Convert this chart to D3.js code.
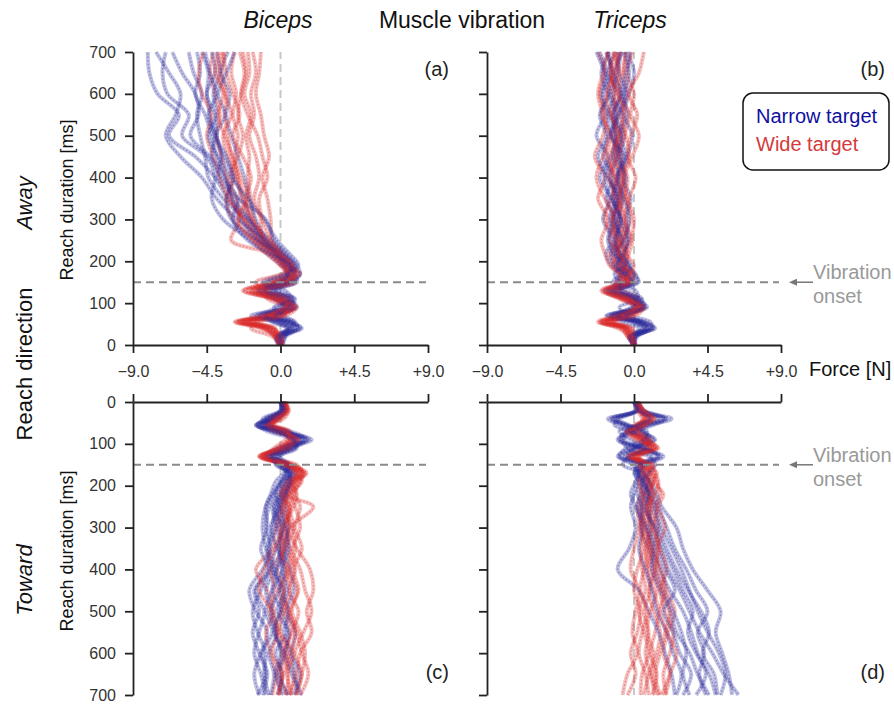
<!DOCTYPE html>
<html>
<head>
<meta charset="utf-8">
<script src="https://cdn.jsdelivr.net/npm/d3@7"></script>
<style>
  body { margin: 0; background: #fff; }
  svg { font-family: "Liberation Sans", Arial, sans-serif; }
  .axis path, .axis line { stroke: #222; stroke-width: 1.8; }
  .axis text { fill: #333; font-size: 16px; font-family: "Liberation Sans", Arial, sans-serif; }
</style>
</head>
<body>
<div id="chart"></div>
<script>
// sample times [ms]
var T = [0,20,40,55,70,90,110,130,150,170,190,220,250,300,350,400,450,500,550,600,650,700]

var xTicks = [-9, -4.5, 0, 4.5, 9]
var xTickLabels = ["\u22129.0", "\u22124.5", "0.0", "+4.5", "+9.0"]
var yTicks = [0,100,200,300,400,500,600,700]
var onsetMs = 150

// (a) biceps, away
var bicepsAwayNarrow = [
  [0,-0.2,0.8,0.3,-0.8,0.6,0.2,-1.0,0.3,0.7,0.5,-0.3,-1.0,-1.8,-2.3,-2.8,-3.5,-4.0,-4.3,-4.5,-4.4,-4.8],
  [0.1,0.3,1.1,0.5,-1.2,0.8,0.4,-1.3,-0.2,0.9,0.8,0.2,-0.6,-2.0,-3.2,-4.0,-5.2,-6.8,-6.2,-7.5,-8.0,-8.1],
  [-0.1,-0.3,0.5,-0.2,-1.5,0.3,0.0,-0.8,0.9,0.4,0.2,-0.6,-1.5,-2.4,-3.0,-3.3,-4.3,-5.5,-5.0,-5.2,-6.0,-6.6],
  [0,0.2,0.9,0.6,-0.6,0.9,0.5,-0.5,1.0,0.9,0.7,0.0,-0.8,-1.5,-1.9,-2.2,-2.6,-3.0,-3.3,-3.1,-3.6,-3.2],
  [0,-0.1,0.6,0.0,-1.0,0.5,-0.2,-1.4,-0.4,0.6,0.3,-0.4,-1.3,-2.2,-3.5,-4.4,-4.6,-4.9,-5.1,-4.8,-5.3,-5.6],
  [0.1,0.1,1.2,0.7,-0.4,1.0,0.6,-0.3,0.7,1.2,1.0,0.3,-0.4,-0.9,-2.6,-3.8,-3.6,-3.9,-4.0,-4.5,-4.0,-4.2],
  [0,-0.2,0.4,-0.4,-1.8,0.2,-0.4,-1.2,0.2,0.5,0.1,-0.9,-1.8,-3.5,-4.2,-4.0,-4.5,-6.0,-5.6,-6.9,-7.2,-7.0],
  [0,0.0,0.7,0.2,-0.9,0.7,0.1,-0.9,0.5,0.8,0.6,-0.2,-1.1,-1.9,-2.9,-3.4,-3.9,-4.2,-4.6,-5.2,-4.9,-5.1],
  [0,0.1,1.0,0.9,0.2,-0.4,0.7,0.3,-0.8,0.4,1.1,0.5,-0.2,-1.0,-2.0,-3.0,-3.8,-4.4,-3.9,-4.1,-3.7,-3.9],
  [0.1,0.3,0.4,-0.5,-0.9,0.1,0.8,-0.2,-1.1,0.2,0.9,0.0,-0.9,-2.6,-3.9,-4.8,-6.1,-7.0,-6.4,-6.1,-6.8,-7.6],
  [-0.1,-0.2,0.6,0.8,-0.3,0.4,0.9,-0.6,0.6,1.2,0.4,-0.2,-1.4,-3.0,-3.3,-2.9,-3.3,-3.9,-3.4,-3.8,-3.3,-2.8],
  [0,0.0,1.3,0.4,-1.3,-0.2,0.5,-1.0,0.0,0.5,0.6,-0.7,-2.0,-2.9,-2.6,-3.6,-4.2,-4.0,-4.4,-3.9,-4.3,-4.6]
]
var bicepsAwayWide = [
  [0,-0.3,-0.6,-2.6,-0.5,0.6,-0.3,-1.8,-0.4,0.5,0.3,-0.4,-1.2,-2.0,-2.4,-2.6,-2.8,-2.6,-2.9,-2.7,-3.0,-2.8],
  [-0.1,-0.4,-0.9,-2.2,-0.2,0.8,0.0,-1.5,0.4,0.8,0.6,-0.1,-0.9,-1.6,-1.8,-2.0,-1.9,-2.1,-1.8,-2.2,-1.9,-2.0],
  [0.1,-0.2,-0.3,-1.8,-0.8,0.4,-0.5,-2.2,-0.8,0.3,0.0,-0.8,-3.0,-2.5,-3.0,-3.3,-3.6,-3.9,-3.7,-4.0,-4.3,-4.1],
  [0,-0.1,-0.7,-2.8,-0.4,0.9,0.2,-1.2,0.6,1.0,0.8,0.1,-0.5,-0.6,-0.8,-1.1,-0.7,-1.0,-1.2,-1.5,-1.3,-1.2],
  [0.2,0.0,-0.5,-2.0,0.0,0.7,-0.1,-1.6,0.0,0.7,0.5,-0.3,-1.0,-1.8,-2.2,-2.6,-3.0,-3.2,-3.4,-3.3,-3.6,-3.4],
  [0,-0.3,-1.0,-2.5,-0.6,0.5,-0.4,-2.0,-0.2,0.4,0.2,-0.5,-1.4,-2.3,-2.7,-3.1,-2.6,-2.3,-2.6,-2.4,-2.1,-2.3],
  [0.1,-0.2,-0.4,-2.3,-0.3,0.8,0.1,-1.4,0.2,0.9,0.7,0.0,-0.8,-1.7,-2.1,-1.8,-2.3,-2.9,-2.5,-2.9,-3.3,-3.5],
  [0,-0.1,-0.8,-1.9,-0.7,0.6,-0.2,-1.7,-0.6,0.6,0.4,-0.6,-1.3,-2.2,-3.2,-3.7,-4.1,-4.5,-4.2,-4.8,-5.0,-4.7],
  [0,-0.5,-1.8,-1.4,0.2,0.4,-0.8,-1.0,0.4,0.9,0.2,-0.2,-1.1,-1.2,-1.6,-1.3,-1.5,-1.9,-1.6,-1.8,-1.5,-1.7],
  [0.1,-0.2,-1.2,-2.7,-1.2,0.2,0.6,-0.9,-1.5,0.1,0.7,-0.3,-1.6,-2.9,-3.3,-2.8,-3.2,-3.5,-3.0,-3.4,-3.8,-3.6],
  [0,0.1,-0.5,-1.5,0.3,1.0,-0.4,-2.3,-0.2,1.2,0.5,-0.1,-0.6,-1.1,-1.3,-0.8,-1.1,-1.4,-2.0,-2.4,-2.2,-2.5],
  [-0.1,-0.3,-1.1,-2.4,-0.9,0.3,0.3,-1.1,0.9,0.6,0.0,-0.9,-1.7,-2.6,-2.0,-2.4,-2.9,-3.4,-3.8,-3.5,-4.0,-3.8]
]

// (b) triceps, away
var tricepsAwayNarrow = [
  [0,-0.3,0.8,0.2,-1.4,0.4,-0.2,-1.5,-0.3,-0.4,-0.9,-1.2,-0.7,-1.3,-0.8,-1.5,-1.0,-0.6,-1.2,-0.9,-1.6,-1.1],
  [-0.1,0.0,1.2,0.6,-0.9,0.7,0.1,-1.1,0.2,0.1,-0.4,-0.6,-0.3,-0.5,-0.2,-0.7,-0.4,-0.1,-0.6,-0.3,0.0,-0.4],
  [0.1,-0.2,0.5,-0.1,-1.7,0.2,-0.5,-1.8,-0.8,-0.9,-1.4,-1.7,-1.3,-1.9,-1.5,-2.1,-1.6,-2.3,-1.8,-2.0,-1.7,-2.1],
  [0,0.2,1.0,0.4,-1.1,0.5,0.0,-1.2,0.0,-0.2,-0.7,-0.9,-1.1,-0.8,-1.2,-0.9,-1.3,-1.0,-0.7,-1.4,-1.0,-0.8],
  [0,-0.1,0.7,0.1,-1.3,0.6,-0.1,-1.4,-0.5,-0.6,-1.0,-0.5,-0.9,-1.5,-1.1,-0.6,-0.9,-1.4,-1.6,-1.2,-1.3,-1.7],
  [0.1,0.1,1.1,0.5,-1.0,0.8,0.2,-1.0,0.3,0.0,-0.3,-0.8,-0.6,-0.3,-0.6,-1.1,-0.5,-0.8,-0.4,-0.7,-0.5,-0.2],
  [0,-0.2,0.6,0.0,-1.6,0.3,-0.3,-1.6,-0.6,-0.7,-1.2,-1.4,-1.0,-1.1,-1.7,-1.3,-1.9,-1.5,-1.1,-1.6,-2.0,-1.5],
  [0,0.0,0.9,0.3,-1.2,0.5,-0.1,-1.3,-0.2,-0.3,-0.8,-1.0,-1.5,-1.0,-0.7,-1.0,-0.8,-1.2,-0.9,-0.5,-0.9,-1.0],
  [0,0.1,1.1,1.0,-0.2,-0.9,0.2,0.1,-1.1,-0.5,-0.2,-0.9,-1.2,-0.8,-1.4,-1.8,-1.4,-1.1,-1.5,-1.9,-1.4,-1.6],
  [0.1,-0.1,0.3,-0.7,-1.4,0.0,0.5,-0.5,-1.3,-0.8,-0.5,-1.1,-0.7,-1.2,-0.9,-0.5,-1.1,-0.8,-1.3,-0.8,-1.2,-0.7],
  [-0.1,0.1,0.8,0.4,-0.5,0.6,0.4,-0.9,-0.1,-0.6,-1.1,-0.6,-0.4,-0.8,-1.3,-1.0,-0.6,-1.4,-1.0,-0.6,-0.3,-0.6],
  [0,-0.3,1.3,0.7,-1.0,-0.2,0.3,-0.8,-0.9,-1.2,-0.6,-1.3,-1.6,-1.3,-1.0,-1.6,-2.2,-1.7,-2.1,-1.5,-1.8,-2.3]
]
var tricepsAwayWide = [
  [0,-0.3,-0.5,-1.9,-0.7,0.2,-0.6,-1.6,-0.6,-0.5,-0.9,-1.1,-0.8,-1.4,-1.0,-1.6,-1.2,-0.8,-1.4,-1.1,-1.5,-1.2],
  [-0.1,-0.1,-0.2,-1.5,-0.3,0.5,-0.2,-1.2,-0.2,0.0,-0.4,-0.3,-0.1,-0.6,-0.3,0.1,-0.4,-0.2,0.2,-0.3,0.3,0.6],
  [0.1,-0.4,-0.7,-2.1,-0.9,0.0,-0.8,-1.9,-0.9,-1.0,-1.5,-1.8,-2.0,-1.6,-2.2,-1.8,-2.4,-1.9,-1.7,-2.1,-1.8,-2.2],
  [0,-0.2,-0.4,-1.7,-0.5,0.4,-0.4,-1.4,-0.4,-0.3,-0.7,-0.9,-1.2,-0.9,-1.3,-1.0,-0.7,-1.1,-1.3,-0.8,-1.1,-0.9],
  [0,0.0,-0.3,-1.4,-0.4,0.6,-0.1,-1.1,-0.1,-0.1,-0.5,-0.4,-0.6,-0.2,-0.5,-0.8,-0.3,-0.5,-0.8,-0.4,-0.6,-0.5],
  [0.1,-0.3,-0.6,-2.0,-0.8,0.1,-0.7,-1.7,-0.7,-0.8,-1.2,-1.5,-1.1,-1.8,-1.4,-1.2,-1.7,-1.4,-2.0,-1.6,-1.3,-1.7],
  [0,-0.1,-0.4,-1.6,-0.6,0.3,-0.3,-1.3,-0.3,-0.4,-0.6,-0.7,-0.4,-1.0,-0.6,-0.4,-0.9,-0.6,-0.3,-0.9,-0.7,-0.5],
  [0,-0.2,-0.5,-1.8,-0.5,0.2,-0.5,-1.5,-0.5,-0.6,-1.0,-1.3,-0.9,-0.7,-1.1,-1.4,-1.0,-1.3,-1.0,-1.3,-0.9,-1.3],
  [0,-0.2,-1.0,-2.0,-0.2,0.4,-0.9,-1.8,-0.4,-0.8,-1.3,-0.9,-1.5,-1.2,-1.8,-2.3,-1.9,-1.6,-1.9,-2.2,-1.9,-1.6],
  [0.1,0.0,-0.1,-1.2,-1.0,0.0,0.3,-0.7,-1.1,-0.3,0.0,-0.5,-0.2,0.0,-0.4,-0.6,-0.1,0.3,-0.2,0.0,-0.4,-0.1],
  [0,-0.4,-0.8,-2.2,-1.2,0.2,-0.2,-1.0,-0.2,-0.9,-0.5,-1.0,-0.7,-0.5,-0.9,-0.7,-1.2,-0.9,-0.6,-1.0,-1.4,-1.0],
  [-0.1,-0.1,-0.6,-1.3,0.1,0.6,-0.5,-2.0,-0.8,-0.2,-0.8,-0.6,-1.0,-1.3,-0.8,-1.1,-1.5,-1.0,-1.4,-1.7,-1.2,-0.8]
]

// (c) biceps, toward
var bicepsTowardNarrow = [
  [0,0.1,-0.8,-1.5,-0.3,1.9,0.5,-0.6,0.2,0.6,0.4,0.0,-0.3,-0.5,-0.8,-0.6,-1.5,-1.0,-1.3,-1.6,-1.2,-0.9],
  [0.1,0.2,-0.5,-1.2,0.0,1.4,0.7,-0.3,0.4,0.8,0.6,0.3,0.1,0.2,-0.1,0.3,0.0,0.5,0.2,0.6,0.9,1.0],
  [0,0.0,-0.9,-1.4,-0.5,1.0,0.3,-0.8,0.0,0.4,0.1,-0.4,-0.7,-0.9,-0.6,-1.1,-1.9,-1.5,-0.8,-1.2,-1.6,-1.3],
  [0.1,0.1,-0.6,-1.0,0.1,1.2,0.6,-0.2,0.5,0.7,0.5,0.2,-0.1,0.0,0.3,-0.2,-0.5,0.1,0.4,-0.3,0.1,-0.2],
  [0,0.2,-0.4,-1.3,-0.2,0.9,0.4,-0.5,0.1,0.5,0.3,-0.2,-0.5,-0.3,-0.7,-0.4,-0.9,-0.5,-0.2,-0.7,-0.4,-0.6],
  [0.2,0.3,-0.3,-0.9,0.2,1.6,0.8,0.0,0.6,0.9,0.7,0.4,0.3,0.5,0.2,0.6,0.8,0.4,0.9,0.7,1.2,0.8],
  [0,0.0,-0.7,-1.5,-0.4,1.1,0.2,-0.7,-0.1,0.3,0.0,-0.5,-0.9,-1.1,-0.9,-0.7,-1.2,-1.7,-1.4,-0.9,-1.0,-0.7],
  [0.1,0.1,-0.5,-1.1,-0.1,1.3,0.5,-0.4,0.3,0.6,0.4,0.1,-0.2,-0.2,0.0,-0.3,-0.1,-0.6,-0.3,0.0,-0.3,0.2],
  [0,0.0,-1.1,-0.8,0.6,1.7,-0.2,-0.9,0.5,0.2,-0.3,-0.6,-0.9,-0.8,-1.2,-0.8,-1.6,-1.3,-1.7,-1.3,-0.9,-1.4],
  [0.1,0.3,-0.2,-1.4,-0.8,0.7,1.0,-0.1,-0.3,0.7,0.2,0.0,-0.4,0.1,-0.3,-0.5,0.2,-0.2,0.5,0.3,0.7,1.3],
  [0,0.1,-0.6,-1.2,0.3,1.5,0.2,-0.6,0.4,0.4,0.0,-0.3,-0.1,-0.6,-0.2,0.1,-0.5,-0.9,-0.5,-1.1,-0.8,-1.1],
  [0.1,0.2,-0.9,-0.6,-0.1,0.8,0.9,-0.5,-0.2,0.5,0.6,0.3,0.0,0.3,0.5,0.1,0.4,0.0,-0.4,0.2,-0.1,0.5]
]
var bicepsTowardWide = [
  [0.3,0.4,-0.2,-0.6,0.3,0.8,0.2,-1.3,0.6,1.6,1.0,0.6,0.5,0.8,0.4,0.9,0.5,1.1,0.7,0.4,0.8,0.5],
  [0.2,0.3,-0.4,-0.8,0.1,0.6,0.0,-1.0,0.4,1.2,0.8,0.3,2.0,0.6,0.3,-0.2,0.2,0.0,-0.3,0.1,-0.2,0.0],
  [0.3,0.5,0.0,-0.4,0.5,1.0,0.4,-0.9,0.8,1.4,1.1,0.8,0.6,0.4,1.0,1.8,2.0,1.6,1.9,1.2,1.0,0.6],
  [0.1,0.2,-0.5,-0.9,0.0,0.5,-0.1,-1.2,0.3,1.0,0.6,0.2,0.0,-0.3,-0.5,-1.5,-0.8,-0.4,-0.9,-0.6,-0.3,-0.5],
  [0.2,0.4,-0.3,-0.7,0.2,0.9,0.3,-1.1,0.5,1.5,0.9,0.5,0.3,0.2,0.0,0.4,-0.1,0.3,0.6,0.2,0.5,0.3],
  [0.3,0.3,-0.1,-0.5,0.4,0.7,0.1,-0.8,0.7,1.3,0.9,0.7,0.9,1.2,0.7,0.5,1.0,0.7,1.2,1.5,1.3,1.0],
  [0.2,0.2,-0.4,-0.8,0.1,0.6,0.0,-1.3,0.2,1.1,0.7,0.4,0.2,-0.1,0.2,-0.6,-0.3,-0.7,-0.2,-0.5,0.1,-0.2],
  [0.1,0.3,-0.2,-0.6,0.3,0.8,0.2,-1.0,0.4,1.2,0.8,0.1,0.4,0.5,0.1,0.3,0.6,0.2,0.0,0.8,0.4,0.7],
  [0.3,0.2,-0.6,-0.4,0.6,0.3,-0.4,-0.9,1.0,1.3,0.7,1.0,0.8,0.3,0.6,1.2,1.5,1.9,1.4,0.9,1.3,0.9],
  [0.2,0.5,0.2,-0.9,-0.3,0.9,0.6,-0.6,0.2,0.9,1.3,0.5,0.1,0.7,0.9,0.6,0.2,0.5,0.9,0.6,0.2,-0.1],
  [0.1,0.3,-0.3,-0.5,0.1,1.1,0.1,-1.2,0.6,1.0,0.4,0.0,0.6,0.1,-0.3,-1.0,-1.3,-0.5,-0.1,0.3,0.0,0.4],
  [0.3,0.4,-0.1,-0.7,0.4,0.5,-0.2,-1.1,0.3,1.4,1.2,0.9,1.2,0.9,1.3,0.8,1.1,0.6,1.0,1.3,1.7,1.2]
]

// (d) triceps, toward
var tricepsTowardNarrow = [
  [0.1,0.3,-1.6,-0.8,0.4,1.2,0.2,-0.8,0.5,0.3,0.6,0.9,0.8,1.2,1.6,2.1,2.8,3.4,4.0,4.8,5.5,6.4],
  [0.2,0.5,2.3,0.9,-0.3,-1.0,0.3,1.8,0.8,0.6,1.0,1.4,1.7,2.6,3.0,3.6,4.5,5.3,5.0,5.4,5.8,6.0],
  [0,0.2,-1.2,-0.5,0.6,1.0,-0.2,-1.0,0.2,0.0,0.3,0.2,0.5,0.4,0.9,1.3,1.8,2.4,2.9,3.2,3.0,3.4],
  [0.1,0.4,1.8,0.6,-0.5,-0.8,0.5,1.4,0.6,0.4,0.7,0.8,1.1,1.5,2.0,2.6,3.3,4.1,4.6,4.2,4.9,5.1],
  [0,0.1,-1.4,-0.6,0.2,1.3,0.0,-0.6,0.3,0.1,0.2,0.0,-0.2,0.1,-0.3,-1.0,0.3,0.9,1.5,1.9,2.3,2.5],
  [0.2,0.3,2.0,0.8,-0.2,-0.9,0.4,1.6,0.7,0.5,0.9,1.2,1.5,2.0,2.5,3.2,3.8,4.5,3.9,4.3,4.0,4.4],
  [0.1,0.2,-1.0,-0.3,0.5,0.8,0.1,-0.4,0.4,0.2,0.5,0.4,0.2,0.7,1.1,1.6,2.2,3.0,3.5,3.9,4.4,3.8],
  [0,0.3,1.5,0.4,-0.4,-0.6,0.3,1.1,0.5,0.3,0.4,0.6,0.9,1.0,1.4,1.9,2.5,1.8,2.4,2.8,3.5,3.0],
  [0.1,0.2,-0.9,-1.2,-0.2,0.9,0.7,-0.3,-0.7,0.6,0.9,0.6,0.4,0.8,1.2,1.1,1.6,2.2,2.6,3.4,3.9,4.6],
  [0.2,0.6,1.9,1.2,0.1,-0.7,-0.4,0.9,1.3,0.9,0.5,1.0,1.3,1.7,2.3,2.9,3.4,3.9,4.5,5.2,5.6,5.3],
  [0,0.1,-1.3,-0.4,0.8,0.6,-0.5,-0.9,-0.1,0.3,0.1,-0.2,0.1,0.5,0.3,0.7,1.1,1.4,2.0,2.4,2.9,2.6],
  [0.1,0.3,1.0,0.2,-0.9,-0.2,0.7,1.5,0.2,0.2,0.6,0.9,0.6,1.3,1.8,2.4,3.0,3.6,3.3,3.8,4.6,5.0]
]
var tricepsTowardWide = [
  [0.2,0.5,0.9,0.3,-0.2,0.6,1.1,-0.2,0.8,0.9,1.0,1.1,0.8,1.0,0.7,0.9,1.2,1.5,1.3,1.0,1.4,1.1],
  [0.3,0.6,1.2,0.5,0.0,0.8,1.3,0.0,1.0,1.2,1.4,1.6,1.3,1.5,1.2,1.7,2.0,2.5,2.1,1.8,2.2,1.9],
  [0.1,0.3,0.6,0.1,-0.4,0.4,0.8,-0.4,0.5,0.6,0.5,0.4,0.2,0.3,0.0,-0.2,0.3,0.1,-0.1,0.2,-0.4,-0.7],
  [0.2,0.4,1.0,0.4,-0.1,0.7,1.0,-0.1,0.9,1.0,1.2,0.9,1.1,0.8,1.0,1.3,0.9,1.2,1.6,1.4,1.1,1.5],
  [0.3,0.5,0.8,0.2,-0.3,0.5,1.2,-0.3,0.7,0.8,0.7,0.6,0.5,0.6,0.4,0.5,0.7,0.3,0.6,0.9,0.5,0.4],
  [0.2,0.6,1.1,0.6,0.1,0.9,1.4,0.1,1.1,1.3,1.5,1.3,1.0,1.3,1.6,2.0,1.6,1.9,2.4,2.2,1.8,2.0],
  [0.1,0.4,0.7,0.2,-0.2,0.5,0.9,-0.2,0.6,0.7,0.8,0.7,0.4,0.5,0.8,0.6,0.4,0.8,0.5,0.3,0.7,0.9],
  [0.2,0.3,0.9,0.3,-0.1,0.6,1.1,0.0,0.8,1.0,0.9,1.0,0.7,1.1,0.9,1.1,1.4,1.0,0.8,1.2,0.9,0.6],
  [0.2,0.4,0.7,0.6,-0.3,0.2,1.3,0.4,0.3,1.1,1.2,0.8,1.4,1.2,1.5,1.3,1.7,2.2,1.9,1.6,1.3,1.6],
  [0.3,0.5,1.1,0.0,0.2,1.0,0.6,-0.3,1.2,0.7,0.9,1.2,0.9,0.7,1.1,0.8,1.0,0.6,0.9,0.7,1.0,1.3],
  [0.1,0.2,0.5,0.4,-0.5,0.1,1.0,0.3,0.3,0.5,0.3,0.5,0.7,0.4,0.6,0.2,0.0,0.4,0.2,-0.2,0.1,-0.4],
  [0.2,0.6,1.3,0.7,0.3,0.7,1.5,0.2,0.9,1.4,1.2,1.8,1.5,1.9,1.4,1.5,1.9,1.6,2.0,2.6,2.2,1.7]
]

var narrowColor = "#2a2a9b"
var wideColor = "#d92a2a"

var width = 894,
    height = 704

var svg = d3.select("#chart")
  .append("svg")
    .attr("width", width)
    .attr("height", height)

var xLeft = d3.scaleLinear().domain([-9, 9]).range([133, 428])
var xRight = d3.scaleLinear().domain([-9, 9]).range([487, 781])
var yTop = d3.scaleLinear().domain([0, 700]).range([345, 52])
var yBot = d3.scaleLinear().domain([0, 700]).range([402, 695])

var panels = [
  {x: xLeft,  y: yTop, narrow: bicepsAwayNarrow,    wide: bicepsAwayWide,    label: "(a)", top: true,  left: true},
  {x: xRight, y: yTop, narrow: tricepsAwayNarrow,   wide: tricepsAwayWide,   label: "(b)", top: true,  left: false},
  {x: xLeft,  y: yBot, narrow: bicepsTowardNarrow,  wide: bicepsTowardWide,  label: "(c)", top: false, left: true},
  {x: xRight, y: yBot, narrow: tricepsTowardNarrow, wide: tricepsTowardWide, label: "(d)", top: false, left: false}
]

panels.forEach(function(p) {
  var g = svg.append("g")

  // zero force reference
  g.append("line")
    .attr("x1", p.x(0)).attr("x2", p.x(0))
    .attr("y1", p.y(0)).attr("y2", p.y(700))
    .attr("stroke", "#c8c8c8")
    .attr("stroke-width", 2)
    .attr("stroke-dasharray", "8,5")

  var line = d3.line()
    .x(function(d) { return p.x(d[1]) })
    .y(function(d) { return p.y(d[0]) })
    .curve(d3.curveCatmullRom)

  var traces = []
  p.narrow.forEach(function(v, i) {
    traces.push({c: narrowColor, v: v})
    if (p.wide[i]) traces.push({c: wideColor, v: p.wide[i]})
  })

  traces.forEach(function(tr) {
    var pts = T.map(function(t, i) { return [t, tr.v[i]] })
    g.append("path")
      .attr("d", line(pts))
      .attr("fill", "none")
      .attr("stroke", tr.c)
      .attr("stroke-opacity", 0.3)
      .attr("stroke-width", 4)
      .attr("stroke-linejoin", "round")
    g.append("path")
      .attr("d", line(pts))
      .attr("fill", "none")
      .attr("stroke", tr.c)
      .attr("stroke-opacity", 0.4)
      .attr("stroke-width", 1.2)
      .attr("stroke-dasharray", "1.5,2")
  })

  // vibration onset
  g.append("line")
    .attr("x1", p.x(-9)).attr("x2", p.x(9) - 2)
    .attr("y1", p.y(onsetMs)).attr("y2", p.y(onsetMs))
    .attr("stroke", "#8a8a8a")
    .attr("stroke-width", 2)
    .attr("stroke-dasharray", "8,5")

  // axes
  var yAxis = d3.axisLeft(p.y)
    .tickValues(yTicks)
    .tickSize(8)
    .tickSizeOuter(0)
    .tickPadding(9)
    .tickFormat(p.left ? d3.format("d") : "")
  g.append("g")
    .attr("class", "axis")
    .attr("transform", "translate(" + p.x(-9) + ",0)")
    .call(yAxis)

  var xAxis = (p.top ? d3.axisBottom(p.x) : d3.axisTop(p.x))
    .tickValues(xTicks)
    .tickSize(8)
    .tickSizeOuter(0)
    .tickPadding(13)
    .tickFormat(function(d, i) { return p.top ? xTickLabels[i] : "" })
  g.append("g")
    .attr("class", "axis")
    .attr("transform", "translate(0," + p.y(0) + ")")
    .call(xAxis)

  g.append("text")
    .attr("x", p.x(9) + (p.left ? 21 : 104))
    .attr("y", p.top ? 76 : 679)
    .attr("text-anchor", "end")
    .style("font-size", "20px")
    .style("fill", "#222")
    .text(p.label)

  if (!p.left) {
    var yo = p.y(onsetMs)
    g.append("line")
      .attr("x1", 813).attr("x2", 795)
      .attr("y1", yo).attr("y2", yo)
      .attr("stroke", "#777")
      .attr("stroke-width", 1.5)
    g.append("path")
      .attr("d", "M789," + yo + " L797," + (yo - 3.5) + " L797," + (yo + 3.5) + " Z")
      .attr("fill", "#777")
    g.append("text")
      .attr("x", 813).attr("y", yo - 3)
      .style("font-size", "20px").style("fill", "#999")
      .text("Vibration")
    g.append("text")
      .attr("x", 813).attr("y", yo + 21)
      .style("font-size", "20px").style("fill", "#999")
      .text("onset")
  }
})

// titles
svg.append("text").attr("x", 278).attr("y", 28).attr("text-anchor", "middle")
  .style("font-size", "23px").style("font-style", "italic").style("fill", "#111").text("Biceps")
svg.append("text").attr("x", 462).attr("y", 28).attr("text-anchor", "middle")
  .style("font-size", "23px").style("fill", "#111").text("Muscle vibration")
svg.append("text").attr("x", 630).attr("y", 28).attr("text-anchor", "middle")
  .style("font-size", "23px").style("font-style", "italic").style("fill", "#111").text("Triceps")

svg.append("text").attr("x", 809).attr("y", 376)
  .style("font-size", "20px").style("fill", "#111").text("Force [N]")

// row labels
function vlabel(x, y, txt, size, italic) {
  svg.append("text")
    .attr("transform", "translate(" + x + "," + y + ") rotate(-90)")
    .attr("text-anchor", "middle")
    .style("font-size", size + "px")
    .style("font-style", italic ? "italic" : "normal")
    .style("fill", "#111")
    .text(txt)
}
vlabel(32, 203, "Away", 22, true)
vlabel(32, 364, "Reach direction", 22, false)
vlabel(32, 580, "Toward", 22, true)
vlabel(73, 200, "Reach duration [ms]", 18, false)
vlabel(73, 551, "Reach duration [ms]", 18, false)

// legend
var legendKeys = ["Narrow target", "Wide target"]
var legendColors = ["#1010a0", "#d43a3a"]
svg.append("rect")
  .attr("x", 743).attr("y", 93)
  .attr("width", 146).attr("height", 77)
  .attr("rx", 10).attr("ry", 10)
  .attr("fill", "#fff")
  .attr("stroke", "#111")
  .attr("stroke-width", 1.5)
svg.selectAll("legendlabels")
  .data(legendKeys)
  .enter()
  .append("text")
    .attr("x", 756)
    .attr("y", function(d, i) { return 123 + i * 28 })
    .style("font-size", "20px")
    .style("fill", function(d, i) { return legendColors[i] })
    .text(function(d) { return d })
</script>
</body>
</html>
